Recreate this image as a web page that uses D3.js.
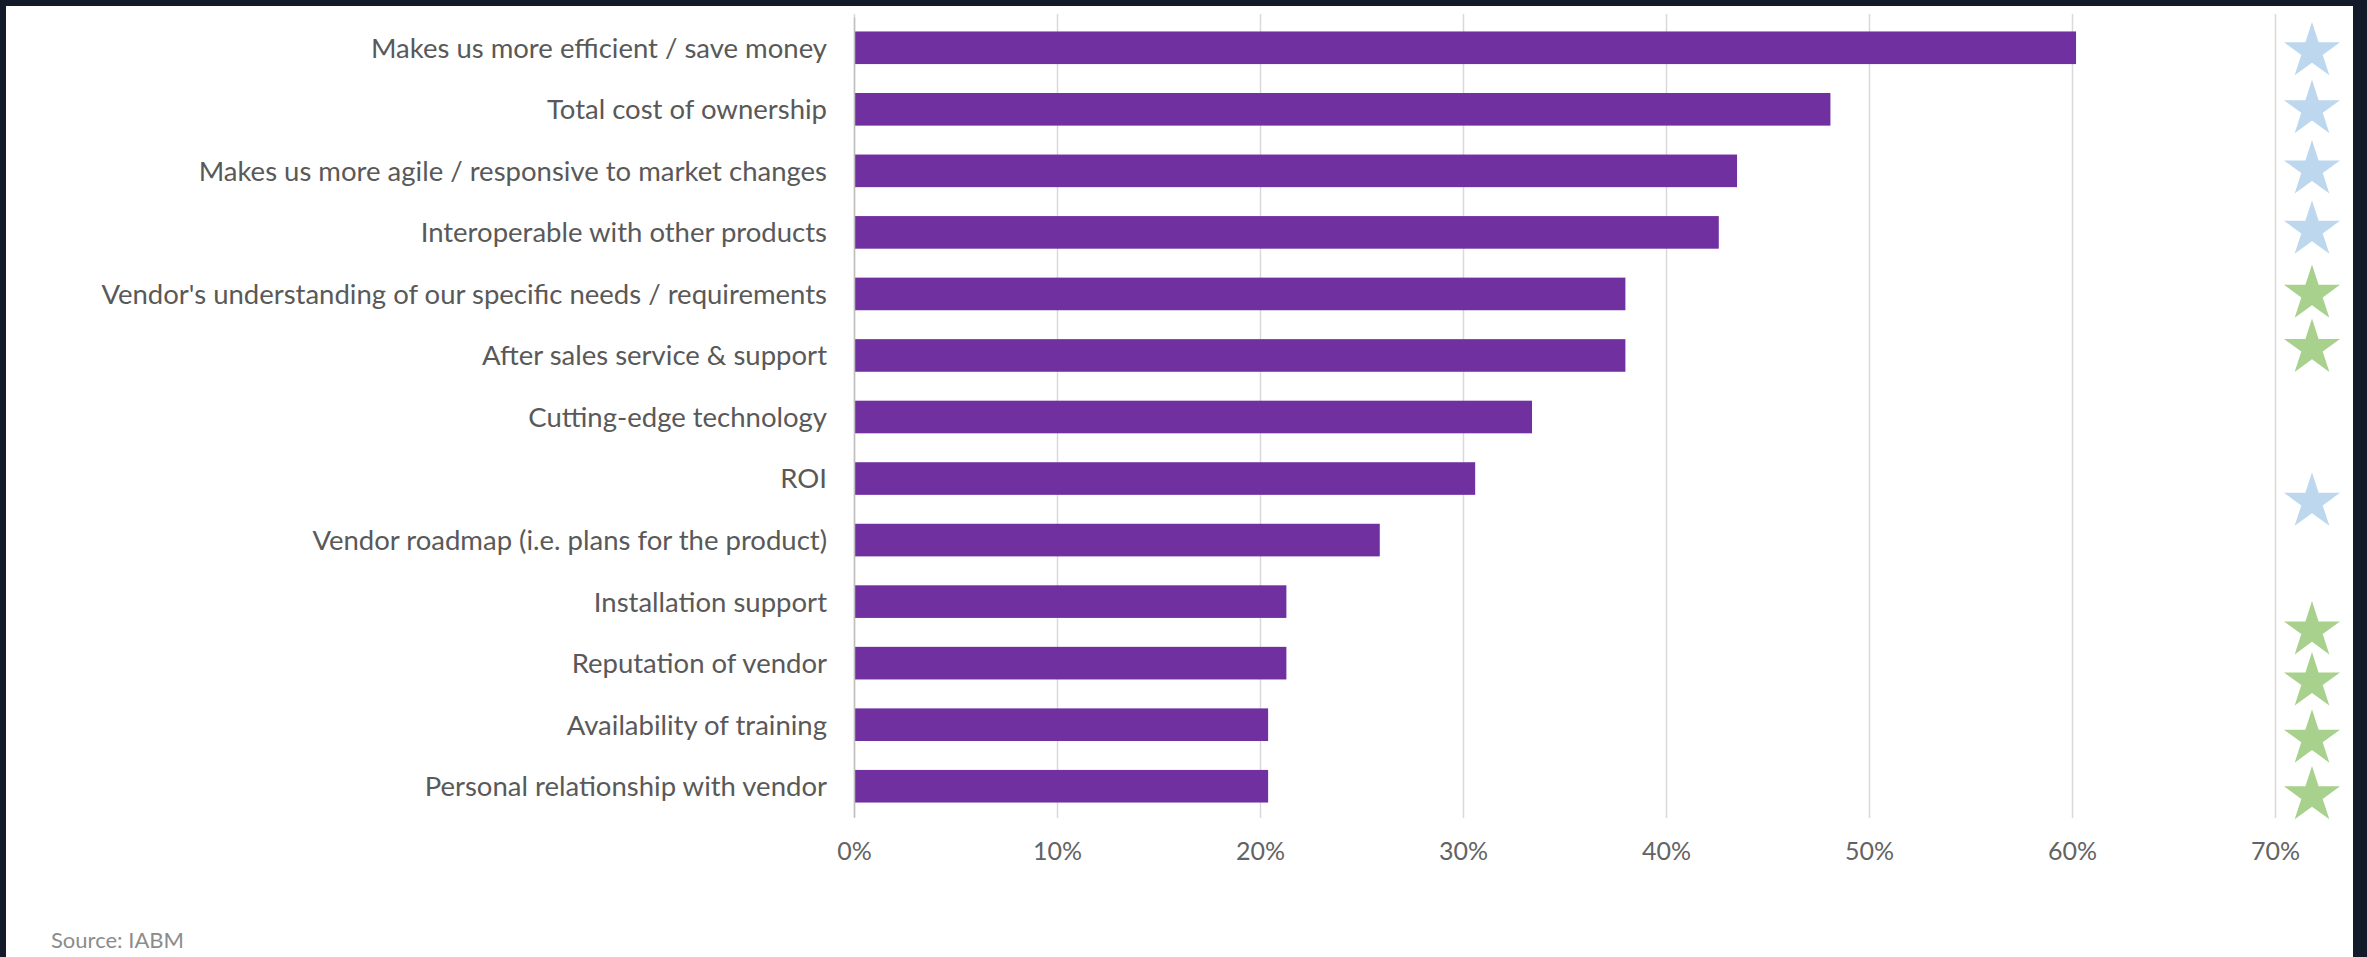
<!DOCTYPE html>
<html>
<head>
<meta charset="utf-8">
<script src="https://cdn.jsdelivr.net/npm/d3@7"></script>
<style>
  body { margin: 0; background: #131b2b; }
  svg { display: block; }
  text { font-family: Lato, "Noto Sans", sans-serif; }
</style>
</head>
<body>
<div id="chart"></div>
<script>
// categories, top to bottom
var categories = [
  "Makes us more efficient / save money",
  "Total cost of ownership",
  "Makes us more agile / responsive to market changes",
  "Interoperable with other products",
  "Vendor's understanding of our specific needs / requirements",
  "After sales service & support",
  "Cutting-edge technology",
  "ROI",
  "Vendor roadmap (i.e. plans for the product)",
  "Installation support",
  "Reputation of vendor",
  "Availability of training",
  "Personal relationship with vendor"
];
// share of respondents
var values = [0.602, 0.481, 0.435, 0.426, 0.380, 0.380, 0.334, 0.306, 0.259, 0.213, 0.213, 0.204, 0.204];
var tickValues = [0, 0.1, 0.2, 0.3, 0.4, 0.5, 0.6, 0.7];

// star markers in the right column: row position (in category rows) and kind
var starRows = [0.06, 1, 1.98, 2.96, 4, 4.88, 7.38, 9.47, 10.3, 11.23, 12.15];
var starKinds = ["blue", "blue", "blue", "blue", "green", "green", "blue", "green", "green", "green", "green"];
var starColors = { blue: "#bdd7ee", green: "#a9d18e" };

(function(){
  var W = 2367, H = 957;
  var margin = {top: 14, left: 854, right: 92, bottom: 139};
  var width = W - margin.left - margin.right,
      height = H - margin.top - margin.bottom;

  var svg = d3.select("#chart").append("svg")
    .attr("width", W)
    .attr("height", H);

  // white panel inside the dark frame
  svg.append("rect")
    .attr("x", 6).attr("y", 6)
    .attr("width", 2347).attr("height", H - 6)
    .attr("fill", "#ffffff");

  var g = svg.append("g")
    .attr("transform", "translate(" + margin.left + "," + margin.top + ")");

  var x = d3.scaleLinear()
    .domain([0, 0.7])
    .range([0, width]);

  var y = d3.scaleBand()
    .domain(categories)
    .range([3, height - 1])
    .paddingInner(0.47)
    .paddingOuter(0.235);

  // gridlines + percent labels
  var xAxis = g.append("g")
    .attr("transform", "translate(0," + height + ")")
    .call(d3.axisBottom(x)
      .tickValues(tickValues)
      .tickSize(-height)
      .tickPadding(24)
      .tickFormat(d3.format(".0%")));
  xAxis.select(".domain").remove();
  xAxis.selectAll(".tick line")
    .attr("stroke", "#d9d9d9")
    .attr("stroke-width", 1.5);
  xAxis.selectAll(".tick text")
    .attr("fill", "#636363")
    .style("font-size", "25px");

  //bars
  g.selectAll("rect.bar")
    .data(categories)
    .join("rect")
    .attr("class", "bar")
    .attr("x", x(0))
    .attr("y", function(d) { return y(d); })
    .attr("width", function(d, i) { return x(values[i]) - x(0); })
    .attr("height", y.bandwidth())
    .attr("fill", "#7030a0");

  // category axis on the left
  var yAxis = g.append("g")
    .call(d3.axisLeft(y).tickSize(0).tickPadding(27));
  yAxis.select(".domain")
    .attr("stroke", "#bfbfbf")
    .attr("stroke-width", 1.5);
  yAxis.selectAll(".tick text")
    .attr("fill", "#595959")
    .attr("dy", "0.36em")
    .style("font-size", "27.5px");

  // stars
  var rowY = d3.scaleLinear()
    .domain([0, categories.length - 1])
    .range([y(categories[0]) + y.bandwidth() / 2, y(categories[categories.length - 1]) + y.bandwidth() / 2]);
  var starX = x(0.7) + 37;
  var star = d3.symbol().type(d3.symbolStar).size(977);

  g.selectAll("path.star")
    .data(starRows)
    .join("path")
    .attr("class", "star")
    .attr("d", star)
    .attr("transform", function(d) { return "translate(" + starX + "," + rowY(d) + ")"; })
    .attr("fill", function(d, i) { return starColors[starKinds[i]]; });

  svg.append("text")
    .attr("x", 51)
    .attr("y", 948)
    .attr("fill", "#8c8c8c")
    .style("font-size", "22px")
    .text("Source: IABM");
})();
</script>
</body>
</html>
